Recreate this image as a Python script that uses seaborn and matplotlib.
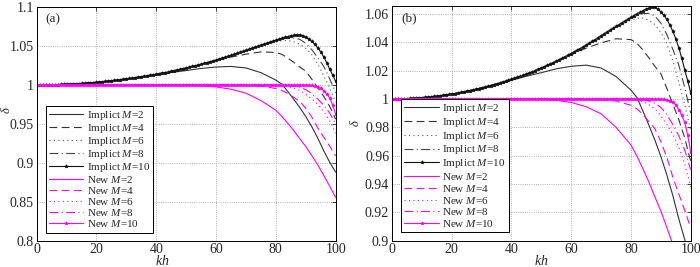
import matplotlib
matplotlib.use("Agg")
import matplotlib.pyplot as plt
import seaborn as sns

# ============ Dataset ============
kh = [0, 5, 10, 15, 20, 25, 30, 35, 40, 45, 50, 55, 60, 65, 70, 75, 80,
      82, 84, 86, 88, 90, 92, 94, 96, 98, 100]
kh_fine = list(range(0, 101))

implicit_m2 = [1.0000, 1.0002, 1.0009, 1.0019, 1.0033, 1.0051, 1.0073, 1.0100, 1.0131,
               1.0160, 1.0185, 1.0212, 1.0230, 1.0238, 1.0218, 1.0158, 1.0062,
               1.0010, 0.9915, 0.9815, 0.9710, 0.9595, 0.9465, 0.9320, 0.9155, 0.9008, 0.8880]
implicit_m4 = [1.0000, 1.0002, 1.0009, 1.0019, 1.0034, 1.0054, 1.0078, 1.0106, 1.0138,
               1.0175, 1.0218, 1.0264, 1.0312, 1.0358, 1.0395, 1.0424, 1.0418,
               1.0393, 1.0345, 1.0290, 1.0230, 1.0178, 1.0075, 0.9965, 0.9855, 0.9725, 0.9560]
implicit_m6 = [1.0000, 1.0002, 1.0009, 1.0019, 1.0034, 1.0054, 1.0078, 1.0106, 1.0138,
               1.0175, 1.0218, 1.0266, 1.0320, 1.0379, 1.0443, 1.0505, 1.0555,
               1.0568, 1.0570, 1.0555, 1.0525, 1.0470, 1.0390, 1.0270, 1.0120, 0.9960, 0.9780]
implicit_m8 = [1.0000, 1.0002, 1.0009, 1.0019, 1.0034, 1.0054, 1.0078, 1.0106, 1.0138,
               1.0175, 1.0218, 1.0266, 1.0320, 1.0379, 1.0445, 1.0510, 1.0570,
               1.0590, 1.0602, 1.0603, 1.0585, 1.0535, 1.0455, 1.0350, 1.0240, 1.0080, 0.9900]
implicit_m10 = [
    1.0000, 1.0000, 1.0000, 1.0001, 1.0001, 1.0002, 1.0003, 1.0004, 1.0006, 1.0007,
    1.0009, 1.0010, 1.0012, 1.0014, 1.0017, 1.0019, 1.0022, 1.0025, 1.0028, 1.0031,
    1.0034, 1.0038, 1.0042, 1.0046, 1.0050, 1.0054, 1.0058, 1.0063, 1.0068, 1.0073,
    1.0078, 1.0083, 1.0089, 1.0094, 1.0100, 1.0106, 1.0112, 1.0118, 1.0125, 1.0131,
    1.0138, 1.0145, 1.0152, 1.0159, 1.0167, 1.0175, 1.0183, 1.0191, 1.0200, 1.0209,
    1.0218, 1.0227, 1.0237, 1.0246, 1.0256, 1.0266, 1.0277, 1.0287, 1.0298, 1.0309,
    1.0320, 1.0331, 1.0343, 1.0355, 1.0367, 1.0379, 1.0392, 1.0405, 1.0418, 1.0431,
    1.0445, 1.0458, 1.0472, 1.0485, 1.0498, 1.0511, 1.0524, 1.0537, 1.0550, 1.0563,
    1.0575, 1.0588, 1.0600, 1.0611, 1.0622, 1.0632, 1.0640, 1.0645, 1.0645, 1.0633,
    1.0615, 1.0590, 1.0560, 1.0522, 1.0478, 1.0425, 1.0362, 1.0288, 1.0205, 1.0128,
    1.0045]

new_m2 = [1.0000, 1.0000, 1.0000, 1.0000, 1.0000, 1.0000, 1.0000, 1.0000, 1.0000,
          0.9999, 0.9997, 0.9990, 0.9975, 0.9945, 0.9895, 0.9800, 0.9675,
          0.9597, 0.9508, 0.9413, 0.9310, 0.9210, 0.9095, 0.8975, 0.8840, 0.8700, 0.8555]
new_m4 = [1.0000, 1.0000, 1.0000, 1.0000, 1.0000, 1.0000, 1.0000, 1.0000, 1.0000,
          1.0000, 1.0000, 1.0000, 1.0000, 0.9999, 0.9995, 0.9985, 0.9955,
          0.9930, 0.9890, 0.9840, 0.9790, 0.9700, 0.9590, 0.9450, 0.9330, 0.9215, 0.9090]
new_m6 = [1.0000, 1.0000, 1.0000, 1.0000, 1.0000, 1.0000, 1.0000, 1.0000, 1.0000,
          1.0000, 1.0000, 1.0000, 1.0000, 1.0000, 1.0000, 0.9999, 0.9995,
          0.9990, 0.9980, 0.9960, 0.9930, 0.9880, 0.9820, 0.9750, 0.9660, 0.9540, 0.9380]
new_m8 = [1.0000, 1.0000, 1.0000, 1.0000, 1.0000, 1.0000, 1.0000, 1.0000, 1.0000,
          1.0000, 1.0000, 1.0000, 1.0000, 1.0000, 1.0000, 1.0000, 0.9999,
          0.9997, 0.9993, 0.9985, 0.9970, 0.9940, 0.9890, 0.9820, 0.9740, 0.9640, 0.9500]
# flat at 1 up to kh=89, then the tail for kh = 90..100
new_m10 = [1.0] * 90 + [0.9998, 0.9996, 0.9993, 0.9987, 0.9978, 0.9958,
                        0.9925, 0.9885, 0.9835, 0.9745, 0.9625]

labels = ["Implict $M$=2", "Implict $M$=4", "Implict $M$=6", "Implict $M$=8", "Implict $M$=10",
          "New $M$=2", "New $M$=4", "New $M$=6", "New $M$=8", "New $M$=10"]

# ============ Styles ============
series = [
    (kh, implicit_m2, "#333333", "-", None),
    (kh, implicit_m4, "#333333", (0, (7, 4)), None),
    (kh, implicit_m6, "#555555", (0, (1, 3)), None),
    (kh, implicit_m8, "#444444", (0, (8, 3, 1, 3)), None),
    (kh_fine, implicit_m10, "#111111", "-", "*"),
    (kh, new_m2, "#ff00ff", "-", None),
    (kh, new_m4, "#ff00ff", (0, (7, 4)), None),
    (kh, new_m6, "#ff00ff", (0, (1, 3)), None),
    (kh, new_m8, "#ff00ff", (0, (8, 3, 1, 3)), None),
    (kh_fine, new_m10, "#ff00ff", "-", "*"),
]

sns.set_style("white")
plt.rcParams['font.family'] = ['Liberation Serif', 'DejaVu Serif']
plt.rcParams['mathtext.fontset'] = 'custom'
plt.rcParams['mathtext.rm'] = 'Liberation Serif'
plt.rcParams['mathtext.it'] = 'Liberation Serif:italic'
plt.rcParams['font.size'] = 8

fig = plt.figure(figsize=(7, 2.67), dpi=100)
ax_a = fig.add_axes([0.0524, 0.0985, 0.4271, 0.875])
ax_b = fig.add_axes([0.5600, 0.0985, 0.4267, 0.879])

panels = [
    (ax_a, "(a)", (0.8, 1.1), [0.8, 0.85, 0.9, 0.95, 1.0, 1.05, 1.1],
     ["0.8", "0.85", "0.9", "0.95", "1", "1.05", "1.1"], 0.42, (-0.080, 0.56), 0.0),
    (ax_b, "(b)", (0.9, 1.0655), [0.9, 0.92, 0.94, 0.96, 0.98, 1.0, 1.02, 1.04, 1.06],
     ["0.9", "0.92", "0.94", "0.96", "0.98", "1", "1.02", "1.04", "1.06"], 0.5, (-0.10, 0.5), 0.07),
]

for ax, tag, ylim, yticks, yticklabels, xlab_pos, ylab_pos, lspace in panels:
    for (x, y, c, ls, mk), lab in zip(series, labels):
        sns.lineplot(x=x, y=y, ax=ax, color=c, linestyle=ls, linewidth=0.8,
                     label=lab, legend=False)
        if mk:
            ln = ax.lines[-1]
            ln.set_marker(mk)
            ln.set_markersize(2.6)
            ln.set_markeredgewidth(0.5)
            ln.set_markerfacecolor(c)
            ln.set_markeredgecolor(c)
    ax.set_xlim(0, 100)
    ax.set_ylim(*ylim)
    ax.set_xticks([0, 20, 40, 60, 80, 100])
    ax.set_yticks(yticks)
    ax.set_yticklabels(yticklabels)
    ax.tick_params(direction='in', top=True, right=True, length=3, width=0.6,
                   labelsize=10, pad=2)
    ax.grid(True, linestyle=':', color='#999999', linewidth=0.6)
    for sp in ax.spines.values():
        sp.set_color('black')
        sp.set_linewidth(0.7)
    ax.set_xlabel("$kh$", fontsize=10)
    ax.xaxis.set_label_coords(xlab_pos, -0.058)
    ax.set_ylabel(r"$\delta$", fontsize=9)
    ax.yaxis.set_label_coords(*ylab_pos)
    ax.text(0.03, 0.975, tag, transform=ax.transAxes, ha='left', va='top', fontsize=9.5)
    leg = ax.legend(loc='lower left', bbox_to_anchor=(0.03, 0.035), borderaxespad=0,
                    fontsize=8, handlelength=3.1, handletextpad=0.3, labelspacing=lspace,
                    borderpad=0.3, numpoints=1, fancybox=False, framealpha=1,
                    edgecolor='black')
    leg.get_frame().set_linewidth(0.7)

fig.savefig("out.png", dpi=100)
